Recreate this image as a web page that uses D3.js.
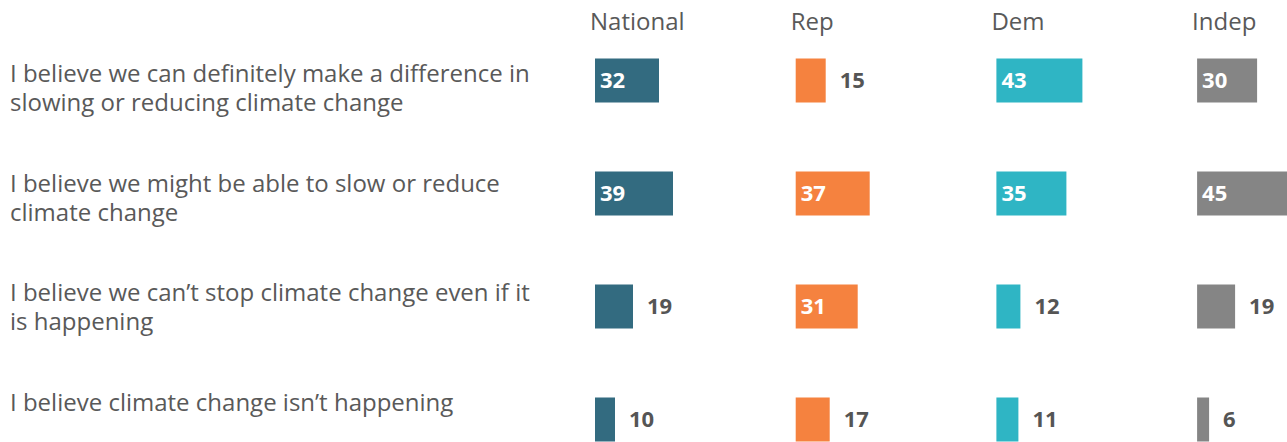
<!DOCTYPE html>
<meta charset="utf-8">
<html><head>
<style>
body { margin: 0; background: #fff; }
text { font-family: "Open Sans", sans-serif; }
.head { font-size: 24px; fill: #595959; }
.cat { font-size: 24px; fill: #595959; }
.val { font-weight: bold; font-size: 22px; }
</style>
</head>
<body>
<svg width="1287" height="442"></svg>
<script src="https://d3js.org/d3.v7.min.js"></script>
<script>

// groups (columns) and statements (rows)
var groups = ["National", "Rep", "Dem", "Indep"];
var statements = [
  "I believe we can definitely make a difference in\nslowing or reducing climate change",
  "I believe we might be able to slow or reduce\nclimate change",
  "I believe we can\u2019t stop climate change even if it\nis happening",
  "I believe climate change isn\u2019t happening"
];

// percent values, one array per group, in statement order
var national = [32, 39, 19, 10];
var rep      = [15, 37, 31, 17];
var dem      = [43, 35, 12, 11];
var indep    = [30, 45, 19, 6];

var colors = ["#336b80", "#f5823f", "#2fb5c4", "#858585"];

var series = [national, rep, dem, indep];

var svg = d3.select("svg"),
    width = +svg.attr("width"),
    height = +svg.attr("height");

var col = d3.scaleBand()
    .domain(groups)
    .range([595, 595 + 200.7 * 4])
    .paddingInner(0).paddingOuter(0);

// bar rows
var row = d3.scalePoint()
    .domain(d3.range(statements.length))
    .range([80.5, 419.5]);

// text rows (first baseline), spaced a bit tighter than the bars
var textRow = d3.scalePoint()
    .domain(d3.range(statements.length))
    .range([82, 410.5]);

var x = d3.scaleLinear()
    .domain([0, 45])
    .range([0, 90]);

var color = d3.scaleOrdinal().domain(groups).range(colors);

var barH = 44;

// column headers
svg.append("g")
  .selectAll("text")
  .data(groups)
  .enter().append("text")
    .attr("class", "head")
    .attr("x", function(d) { return col(d) - 5; })
    .attr("y", 30)
    .text(function(d) { return d; });

// row labels
var cats = svg.append("g")
  .selectAll("text")
  .data(statements)
  .enter().append("text")
    .attr("class", "cat")
    .attr("x", 10)
    .attr("y", function(d, i) { return textRow(i); });

cats.selectAll("tspan")
  .data(function(d) { return d.split("\n"); })
  .enter().append("tspan")
    .attr("x", 10)
    .attr("dy", function(d, i) { return i ? 29 : 0; })
    .text(function(d) { return d; });

// flatten into cells
var cells = [];
groups.forEach(function(g, gi) {
  series[gi].forEach(function(v, si) {
    cells.push({ group: g, row: si, value: v });
  });
});

var cell = svg.append("g")
  .selectAll("g")
  .data(cells)
  .enter().append("g")
    .attr("transform", function(d) {
      return "translate(" + col(d.group) + "," + (row(d.row) - barH / 2) + ")";
    });

cell.append("rect")
    .attr("width", function(d) { return x(d.value); })
    .attr("height", barH)
    .attr("fill", function(d) { return color(d.group); });

cell.append("text")
    .attr("class", "val")
    .attr("x", function(d) { return d.value >= 25 ? 5 : x(d.value) + 14; })
    .attr("y", barH / 2)
    .attr("dy", "0.36em")
    .attr("fill", function(d) { return d.value >= 25 ? "#fff" : "#555"; })
    .text(function(d) { return d.value; });

</script>
</body>
</html>
